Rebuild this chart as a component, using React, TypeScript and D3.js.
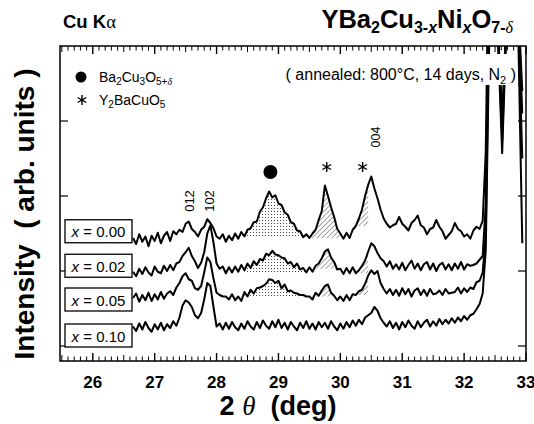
import * as d3 from 'd3';

// 2-theta scan grid (deg) and intensities (arb. units)
const twoTheta = [
  26.65, 26.70, 26.75, 26.80, 26.85, 26.90, 26.95, 27.00, 27.05, 27.10,
  27.15, 27.20, 27.25, 27.30, 27.35, 27.40, 27.45, 27.50, 27.55, 27.60,
  27.65, 27.70, 27.75, 27.80, 27.85, 27.90, 27.95, 28.00, 28.05, 28.10,
  28.15, 28.20, 28.25, 28.30, 28.35, 28.40, 28.45, 28.50, 28.55, 28.60,
  28.65, 28.70, 28.75, 28.80, 28.85, 28.90, 28.95, 29.00, 29.05, 29.10,
  29.15, 29.20, 29.25, 29.30, 29.35, 29.40, 29.45, 29.50, 29.55, 29.60,
  29.65, 29.70, 29.75, 29.80, 29.85, 29.90, 29.95, 30.00, 30.05, 30.10,
  30.15, 30.20, 30.25, 30.30, 30.35, 30.40, 30.45, 30.50, 30.55, 30.60,
  30.65, 30.70, 30.75, 30.80, 30.85, 30.90, 30.95, 31.00, 31.05, 31.10,
  31.15, 31.20, 31.25, 31.30, 31.35, 31.40, 31.45, 31.50, 31.55, 31.60,
  31.65, 31.70, 31.75, 31.80, 31.85, 31.90, 31.95, 32.00, 32.05, 32.10,
  32.15, 32.20, 32.25, 32.30, 32.35,
];

const int000 = [
  144, 136, 149, 139, 146, 133, 147, 140, 151, 137,
  147, 152, 140, 153, 149, 155, 152, 163, 166, 156,
  152, 146, 155, 159, 169, 164, 157, 146, 143, 149,
  139, 147, 141, 150, 143, 152, 146, 155, 157, 165,
  166, 179, 185, 197, 206, 198, 201, 190, 188, 178,
  175, 165, 163, 154, 153, 145, 149, 144, 150, 155,
  168, 180, 214, 200, 185, 172, 156, 150, 143, 151,
  144, 155, 160, 170, 182, 200, 215, 226, 210, 197,
  182, 170, 163, 158, 161, 163, 172, 163, 159, 154,
  164, 168, 174, 161, 158, 149, 156, 158, 168, 159,
  153, 143, 148, 153, 164, 156, 153, 146, 149, 143,
  154, 159, 156, 167, 260,
];

const int002 = [
  99, 93, 103, 96, 105, 98, 94, 106, 99, 97,
  107, 100, 108, 101, 110, 112, 120, 125, 131, 120,
  113, 104, 111, 125, 150, 161, 138, 110, 103, 106,
  97, 105, 98, 106, 99, 108, 101, 110, 104, 113,
  108, 116, 114, 123, 121, 127, 122, 121, 118, 117,
  110, 112, 105, 110, 102, 104, 98, 105, 99, 107,
  110, 117, 126, 129, 118, 112, 102, 103, 96, 104,
  97, 105, 97, 101, 107, 114, 126, 137, 133, 124,
  117, 113, 106, 113, 103, 109, 102, 111, 101, 108,
  114, 103, 110, 101, 109, 112, 102, 110, 100, 108,
  111, 102, 109, 101, 110, 103, 112, 102, 109, 107,
  108, 110, 115, 120, 190,
];

const int005 = [
  64, 70, 59, 68, 61, 71, 60, 69, 62, 72,
  63, 70, 73, 68, 78, 84, 93, 97, 89, 87,
  77, 75, 80, 98, 118, 112, 90, 71, 68, 66,
  66, 62, 69, 61, 66, 60, 72, 66, 75, 70,
  77, 78, 80, 83, 89, 88, 84, 87, 77, 82,
  73, 74, 71, 70, 68, 68, 66, 66, 62, 71,
  67, 74, 80, 82, 71, 67, 61, 66, 60, 68,
  61, 69, 68, 73, 75, 83, 94, 101, 96, 100,
  84, 76, 70, 76, 68, 75, 67, 77, 69, 76,
  66, 74, 77, 68, 75, 67, 76, 69, 70, 74,
  68, 76, 70, 71, 72, 78, 70, 77, 72, 78,
  76, 85, 87, 98, 150,
];

const int010 = [
  26, 20, 30, 22, 32, 24, 19, 29, 22, 31,
  21, 29, 24, 33, 27, 38, 54, 61, 58, 52,
  41, 37, 44, 62, 84, 80, 52, 26, 30, 22,
  31, 23, 32, 25, 21, 30, 23, 33, 26, 22,
  32, 24, 34, 27, 23, 33, 25, 35, 24, 31,
  22, 32, 26, 21, 31, 24, 33, 23, 30, 22,
  32, 25, 31, 23, 33, 26, 21, 30, 23, 32,
  25, 34, 27, 35, 29, 38, 41, 44, 52, 47,
  37, 31, 26, 33, 24, 31, 22, 32, 25, 34,
  27, 23, 33, 25, 31, 35, 26, 33, 27, 36,
  29, 35, 30, 37, 31, 38, 33, 40, 35, 41,
  43, 49, 56, 70, 128,
];

// strong YBCO reflections at the right edge (run off the top of the frame)
const tailTheta = [32.40, 32.46, 32.52, 32.615, 32.70, 32.78, 32.86, 32.94];
const tail000 = [560, 600, 470, 257, 470, 560, 480, 137];
const tail002 = [480, 600, 470, 275, 470, 560, 480, 250];
const tail005 = [420, 600, 470, 290, 470, 560, 480, 310];
const tail010 = [380, 600, 470, 305, 470, 560, 480, 340];

const samples = ['0.00', '0.02', '0.05', '0.10'];
const labelLevels = [153, 107, 62, 14];
const shaded = ['0.00', '0.02', '0.05'];
const dotRange: [number, number] = [28.45, 29.45];
const hatchRanges: [number, number][] = [[29.5, 30.0], [30.25, 30.47]];

const xTicks = [26, 27, 28, 29, 30, 31, 32, 33];
const yTicks = [0, 100, 200, 300];

const W = 534, H = 424;
const L = 60, R = 526, T = 46, B = 361;
const SANS = '"Liberation Sans", Arial, Helvetica, sans-serif';
const SERIF = '"Liberation Serif", "DejaVu Serif", serif';

export default function App() {
  const x = d3.scaleLinear().domain([25.47, 33.0]).range([L, R]);
  const y = d3.scaleLinear().domain([-20, 400]).range([B, T]);

  const mains = [int000, int002, int005, int010];
  const tails = [tail000, tail002, tail005, tail010];
  const series = samples.map((s, i) => ({
    name: s,
    pts: [
      ...twoTheta.map((t, j) => [t, mains[i][j]] as [number, number]),
      ...tailTheta.map((t, j) => [t, tails[i][j]] as [number, number]),
    ],
    main: twoTheta.map((t, j) => [t, mains[i][j]] as [number, number]),
  }));

  const line = d3.line<[number, number]>().x(d => x(d[0])).y(d => y(d[1]));

  const shadePath = (pts: [number, number][], r: [number, number]) => {
    const sel = pts.filter(p => p[0] >= r[0] - 1e-6 && p[0] <= r[1] + 1e-6);
    const base = Math.min(sel[0][1], sel[sel.length - 1][1]);
    return d3.area<[number, number]>()
      .x(d => x(d[0]))
      .y0(y(base))
      .y1(d => y(Math.max(d[1], base)))(sel) || '';
  };

  // minor ticks every 0.1 deg (taller at half degrees), major ticks at whole degrees
  const minor = x.ticks(80).filter(v => Math.abs(v - Math.round(v)) > 1e-6);
  const major = x.ticks(8);
  const minorLen = (v: number) => (Math.abs(v * 2 - Math.round(v * 2)) < 1e-6 ? 6 : 4.5);

  const asterisk = d3.symbol(d3.symbolAsterisk, 70)() || '';

  return (
    <svg width={W} height={H} style={{ position: 'absolute', left: 0, top: 0, background: '#fff' }}
      fontFamily={SANS}>
      <defs>
        <clipPath id="frame"><rect x={L} y={T} width={R - L} height={B - T} /></clipPath>
        <pattern id="dots" width={3} height={3} patternUnits="userSpaceOnUse">
          <rect x={1} y={1} width={1} height={1} fill="#444" />
        </pattern>
        <pattern id="hatch" width={3.5} height={3.5} patternUnits="userSpaceOnUse" patternTransform="rotate(45)">
          <line x1={0} y1={0} x2={0} y2={3.5} stroke="#333" strokeWidth={0.9} />
        </pattern>
      </defs>

      <g clipPath="url(#frame)">
        {series.filter(s => shaded.includes(s.name)).map(s => (
          <g key={'sh' + s.name}>
            <path d={shadePath(s.main, dotRange)} fill="url(#dots)" />
            {hatchRanges.map((r, k) => (
              <path key={k} d={shadePath(s.main, r)} fill="url(#hatch)" />
            ))}
          </g>
        ))}
        {series.map(s => (
          <path key={s.name} d={line(s.pts) || ''} fill="none" stroke="#000" strokeWidth={2}
            strokeLinejoin="round" />
        ))}
      </g>

      {/* white backing of the annealing note */}
      <rect x={262} y={54} width={255} height={31} fill="#fff" />

      {/* frame */}
      <rect x={L} y={T} width={R - L} height={B - T} fill="none" stroke="#000" strokeWidth={1.5} />

      {/* x ticks on bottom and top, pointing in */}
      {minor.map((v, i) => (
        <g key={'m' + i} stroke="#000" strokeWidth={1}>
          <line x1={x(v)} x2={x(v)} y1={B} y2={B - minorLen(v)} />
          <line x1={x(v)} x2={x(v)} y1={T} y2={T + minorLen(v)} />
        </g>
      ))}
      {major.map((v, i) => (
        <g key={'M' + i} stroke="#000" strokeWidth={1.4}>
          <line x1={x(v)} x2={x(v)} y1={B} y2={B - 8} />
          <line x1={x(v)} x2={x(v)} y1={T} y2={T + 8} />
        </g>
      ))}
      {/* y ticks, both sides */}
      {yTicks.map(v => (
        <g key={'y' + v} stroke="#000" strokeWidth={1.2}>
          <line x1={L} x2={L + 8} y1={y(v)} y2={y(v)} />
          <line x1={R} x2={R - 8} y1={y(v)} y2={y(v)} />
        </g>
      ))}

      {/* sample label boxes */}
      {samples.map((s, i) => (
        <g key={'b' + s}>
          <rect x={65} y={y(labelLevels[i]) - 11.5} width={67} height={23} fill="#fff" stroke="#000" strokeWidth={1.3} />
          <text x={98.5} y={y(labelLevels[i]) + 6} textAnchor="middle" fontSize={15}>
            <tspan fontStyle="italic">x</tspan> = {s}
          </text>
        </g>
      ))}

      {/* x tick labels */}
      {xTicks.map(v => (
        <text key={'xl' + v} x={x(v)} y={388} textAnchor="middle" fontSize={17} fontWeight="bold">{v}</text>
      ))}

      {/* axis titles */}
      <text x={278} y={415} textAnchor="middle" fontSize={27} fontWeight="bold" style={{ whiteSpace: 'pre' }}>
        2 <tspan fontFamily={SERIF} fontStyle="italic" fontWeight="normal">θ</tspan>{'  (deg)'}
      </text>
      <text transform="translate(34,214) rotate(-90)" textAnchor="middle" fontSize={28}
        fontWeight="bold" style={{ whiteSpace: 'pre' }}>
        {'Intensity  ( arb. units )'}
      </text>

      {/* header */}
      <text x={63} y={28} fontSize={18.5} fontWeight="bold">
        Cu K<tspan fontFamily={SERIF} fontWeight="normal">α</tspan>
      </text>
      <text x={513} y={28} textAnchor="end" fontSize={25.5} fontWeight="bold">
        YBa<tspan fontSize={16} dy={5}>2</tspan><tspan dy={-5}>Cu</tspan><tspan fontSize={16} dy={5}>3-</tspan><tspan fontSize={16} fontStyle="italic">x</tspan><tspan dy={-5}>Ni</tspan><tspan fontSize={16} fontStyle="italic" dy={5}>x</tspan><tspan dy={-5}>O</tspan><tspan fontSize={16} dy={5}>7-</tspan><tspan fontSize={16} fontFamily={SERIF} fontWeight="normal" fontStyle="italic">δ</tspan>
      </text>
      <text x={516} y={80} textAnchor="end" fontSize={16}>
        ( annealed: 800°C, 14 days, N<tspan fontSize={11} dy={4}>2</tspan><tspan dy={-4}> )</tspan>
      </text>

      {/* legend */}
      <circle cx={81} cy={77} r={5.5} fill="#000" />
      <text x={99} y={82} fontSize={14}>
        Ba<tspan fontSize={10} dy={3}>2</tspan><tspan dy={-3}>Cu</tspan><tspan fontSize={10} dy={3}>3</tspan><tspan dy={-3}>O</tspan><tspan fontSize={10} dy={3}>5+</tspan><tspan fontSize={10} fontFamily={SERIF} fontStyle="italic">δ</tspan>
      </text>
      <path d={asterisk} transform="translate(82,100)" fill="none" stroke="#000" strokeWidth={1.4} />
      <text x={99} y={105} fontSize={14}>
        Y<tspan fontSize={10} dy={3}>2</tspan><tspan dy={-3}>BaCuO</tspan><tspan fontSize={10} dy={3}>5</tspan>
      </text>

      {/* peak markers */}
      <circle cx={x(28.87)} cy={172} r={7} fill="#000" />
      <path d={asterisk} transform={`translate(${x(29.78)},167)`} fill="none" stroke="#000" strokeWidth={1.4} />
      <path d={asterisk} transform={`translate(${x(30.36)},167)`} fill="none" stroke="#000" strokeWidth={1.4} />

      {/* Miller indices */}
      <text transform={`translate(${x(27.55) + 5},201) rotate(-90)`} textAnchor="middle" fontSize={13}>012</text>
      <text transform={`translate(${x(27.87) + 5},201) rotate(-90)`} textAnchor="middle" fontSize={13}>102</text>
      <text transform={`translate(${x(30.5) + 9},137) rotate(-90)`} textAnchor="middle" fontSize={12.5}>004</text>
    </svg>
  );
}
